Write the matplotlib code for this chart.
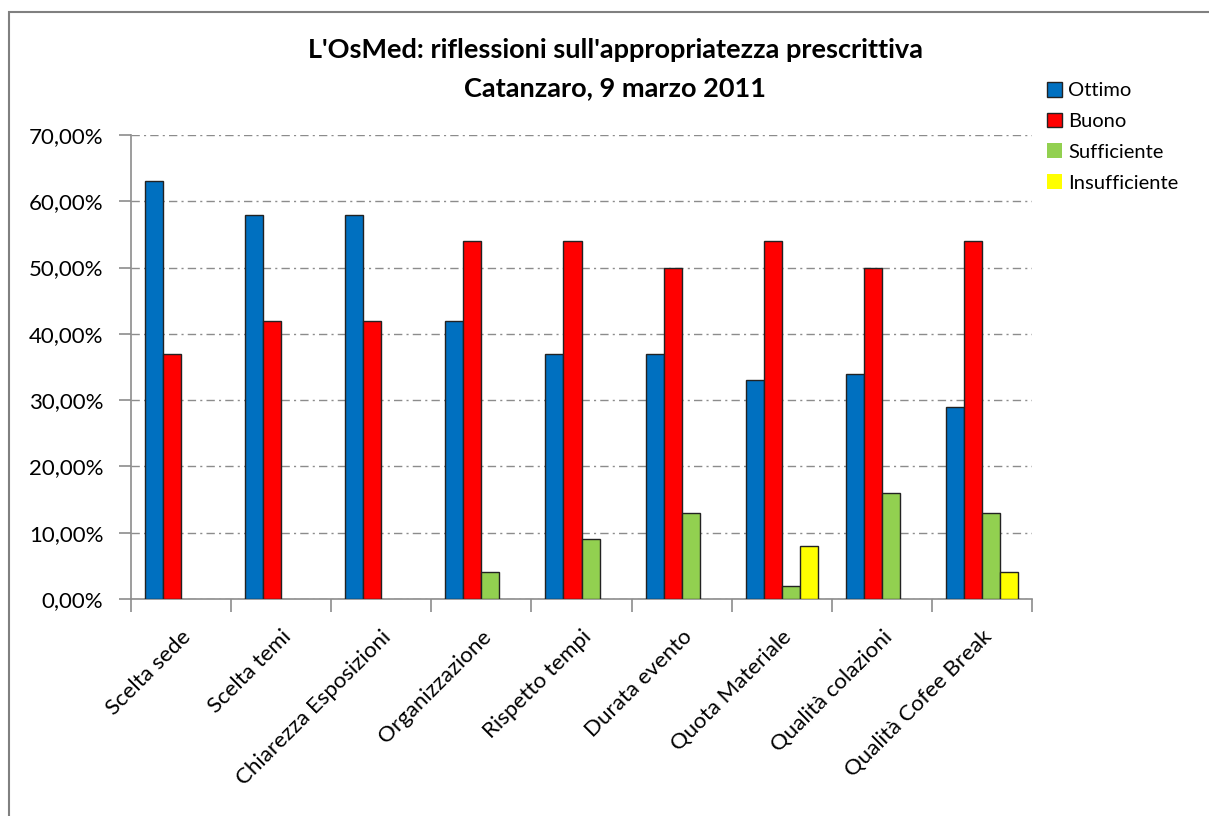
import numpy as np
import matplotlib.pyplot as plt
from matplotlib.patches import Rectangle
from matplotlib.ticker import FuncFormatter

plt.rcParams['font.family'] = ['Lato', 'DejaVu Sans']

categories = ['Scelta sede', 'Scelta temi', 'Chiarezza Esposizioni', 'Organizzazione',
              'Rispetto tempi', 'Durata evento', 'Quota Materiale', 'Qualità colazioni',
              'Qualità Cofee Break']
ottimo = [63, 58, 58, 42, 37, 37, 33, 34, 29]
buono = [37, 42, 42, 54, 54, 50, 54, 50, 54]
sufficiente = [0, 0, 0, 4, 9, 13, 2, 16, 13]
insufficiente = [0, 0, 0, 0, 0, 0, 8, 0, 4]

series = [('Ottimo', ottimo, '#0070C0'),
          ('Buono', buono, '#FF0000'),
          ('Sufficiente', sufficiente, '#92D050'),
          ('Insufficiente', insufficiente, '#FFFF00')]

fig = plt.figure(figsize=(12.09, 8.16), dpi=100)
ax = fig.add_axes([131 / 1209, 1 - 599 / 816, (1032 - 131) / 1209, (599 - 135) / 816])

# outer chart border
fig.patches.append(Rectangle((9 / 1209, -0.05), 1.2, 1 - 12 / 816 + 0.05,
                             transform=fig.transFigure, fill=False,
                             edgecolor='#808080', linewidth=1.5))

x = np.arange(len(categories))
width = 0.18
handles = []
for i, (name, vals, color) in enumerate(series):
    pos = x + (i - 1.5) * width
    lw = [1 if v > 0 else 0 for v in vals]
    h = ax.bar(pos, vals, width, color=color, edgecolor='#222222', linewidth=lw,
               label=name, zorder=3)
    handles.append(h)

ax.set_xlim(-0.5, len(categories) - 0.5)
ax.set_ylim(0, 70)
ax.set_yticks(np.arange(0, 71, 10))
ax.yaxis.set_major_formatter(FuncFormatter(lambda v, p: '{:.2f}%'.format(v).replace('.', ',')))
ax.grid(axis='y', linestyle=(0, (6, 3, 1.5, 3)), color='#8c8c8c', linewidth=1, zorder=0)

ax.set_xticks(np.arange(-0.5, len(categories), 1))
ax.set_xticklabels([])
ax.set_xticks(x, minor=True)
ax.set_xticklabels(categories, minor=True, rotation=45, ha='right',
                   rotation_mode='anchor', fontsize=16)
ax.tick_params(axis='x', which='minor', length=0, pad=20)
ax.tick_params(axis='x', which='major', length=9, color='#8c8c8c', width=1.2)
ax.tick_params(axis='y', length=9, color='#8c8c8c', width=1.2, labelsize=16, pad=11)

for s in ['top', 'right']:
    ax.spines[s].set_visible(False)
for s in ['left', 'bottom']:
    ax.spines[s].set_color('#8c8c8c')
    ax.spines[s].set_linewidth(1.2)

fig.text(615 / 1209, 1 - 50 / 816, "L'OsMed: riflessioni sull'appropriatezza prescrittiva",
         ha='center', va='center', fontsize=19.5, fontweight='bold')
fig.text(615 / 1209, 1 - 88 / 816, "Catanzaro, 9 marzo 2011",
         ha='center', va='center', fontsize=19.5, fontweight='bold')

fig.legend(handles=handles, loc='upper left', bbox_to_anchor=(1039 / 1209, 1 - 74 / 816),
           frameon=False, fontsize=14.5, handlelength=0.75, handleheight=0.75,
           handletextpad=0.3, labelspacing=0.66, borderaxespad=0)

fig.savefig('out.png', dpi=100)
